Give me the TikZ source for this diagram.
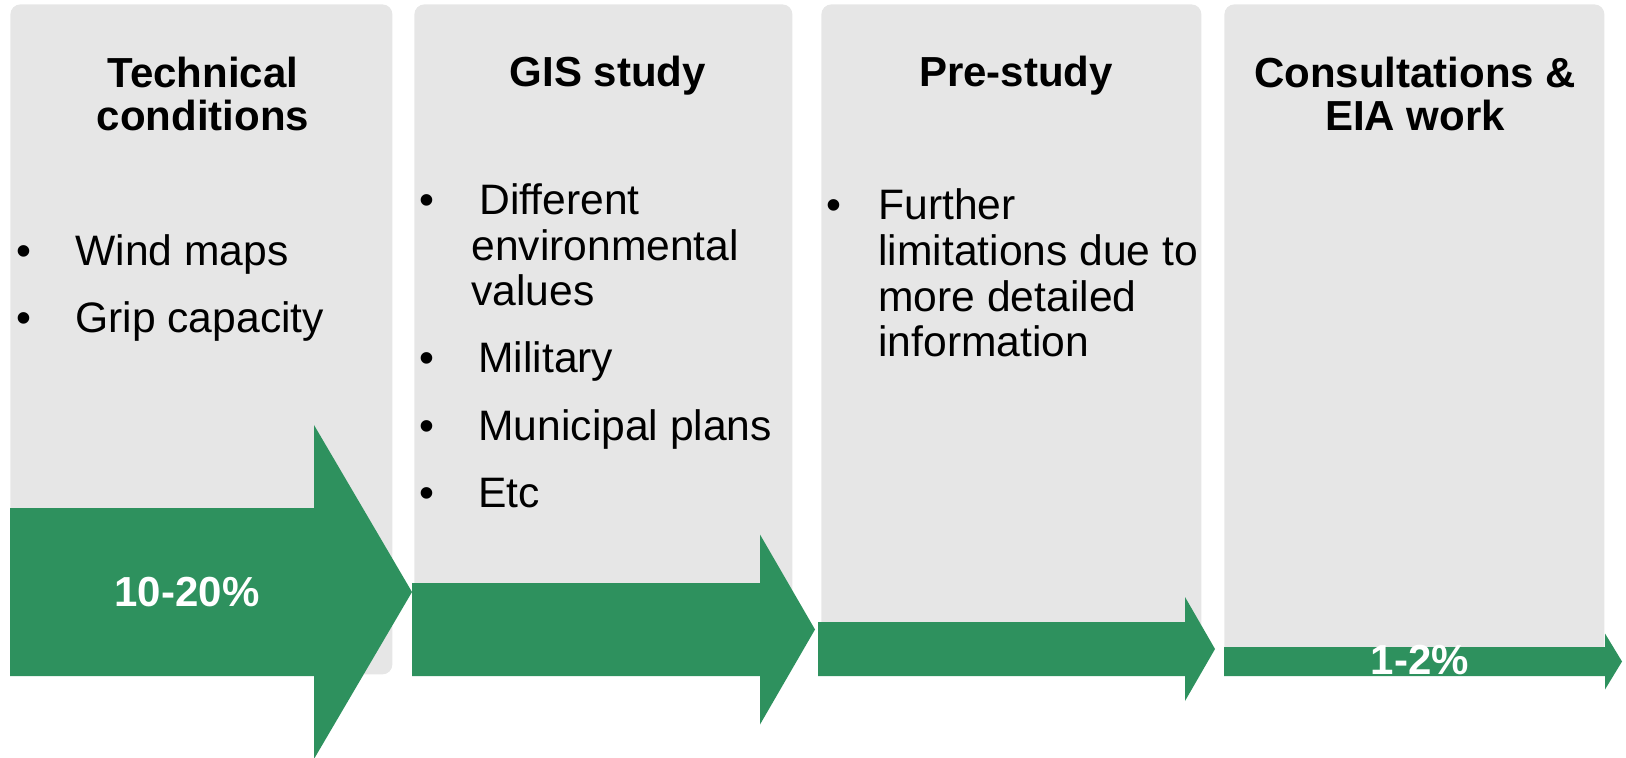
\documentclass[tikz,border=0pt]{standalone}
\usepackage{fontspec}
\setmainfont{Liberation Sans}
\usepackage{tikz}
\usetikzlibrary{calc}
\definecolor{stagegray}{RGB}{230,230,230}
\definecolor{flowgreen}{RGB}{46,145,94}

\begin{document}
\begin{tikzpicture}[
x=0.5pt, y=-0.5pt,
 stage/.style = {rectangle, rounded corners=5pt, fill=stagegray,% grey column of one step
                 anchor=north west, inner sep=0pt, minimum height=335pt},
  head/.style = {font=\fontsize{21}{21.5}\selectfont\bfseries,
                 align=center, anchor=base, inner sep=0pt},
  item/.style = {font=\fontsize{21.3}{23}\selectfont, anchor=base west, inner sep=0pt},
  flow/.style = {fill=flowgreen},% the shrinking arrows
   pct/.style = {font=\fontsize{21}{23}\selectfont\bfseries, text=white,
                 anchor=base, inner sep=0pt},
                        ]
\useasboundingbox (0,0) rectangle (1626,758);
\foreach \n/\x/\w in {1/10/191pt, 2/414/189pt, 3/821/190pt, 4/1224/190pt}% <-- columns
    \node[stage, minimum width=\w] (box\n) at (\x,4) {};
% two-line heads sit on their last line
\node[head] (head1) at (203,131) {Technical\\conditions};
\node[head] (head2) at (608,87) {GIS study};
\node[head] (head3) at (1016,87) {Pre-study};
\node[head] (head4) at (1415,131) {Consultations \&\\EIA work};
\foreach \i/\x/\y/\t in {1/75/266/Wind maps, 2/75/333/Grip capacity,
        3/479/215/Different, 4/471/261/environmental, 5/471/306/values,
        6/478/373/Military, 7/478/441/Municipal plans, 8/478/508/Etc,
        9/878/220/Further, 10/878/266/limitations due to,
        11/878/312/more detailed, 12/878/357/information}
    \node[item] (line\i) at (\x,\y) {\t};
\foreach \i/\x/\y in {1/16/266, 2/16/333, 3/419/215, 6/419/373, 7/419/441,
        8/419/508, 9/826/220}
    \node[item] (dot\i) at (\x,\y) {\textbullet};
% arrows: tail x, head x, tip x, top of body, half height of head
\foreach \n/\xa/\xb/\xc/\ya/\hh in {1/10/314/412/508/167, 2/412/760/815/583/95,
        3/818/1185/1215/622/52, 4/1224/1605/1622/647/28}{
    \pgfmathsetmacro\yc{(\ya+676)/2}
    \fill[flow] (\xa,\ya) -- (\xb,\ya) -- (\xb,{\yc-\hh}) -- (\xc,\yc)
        -- (\xb,{\yc+\hh}) -- (\xb,676) -- (\xa,676) -- cycle;
}
\node[pct] (pct1) at (187,606) {10-20\%};
\node[pct] (pct4) at (1420,674) {1-2\%};
\end{tikzpicture}
\end{document}
